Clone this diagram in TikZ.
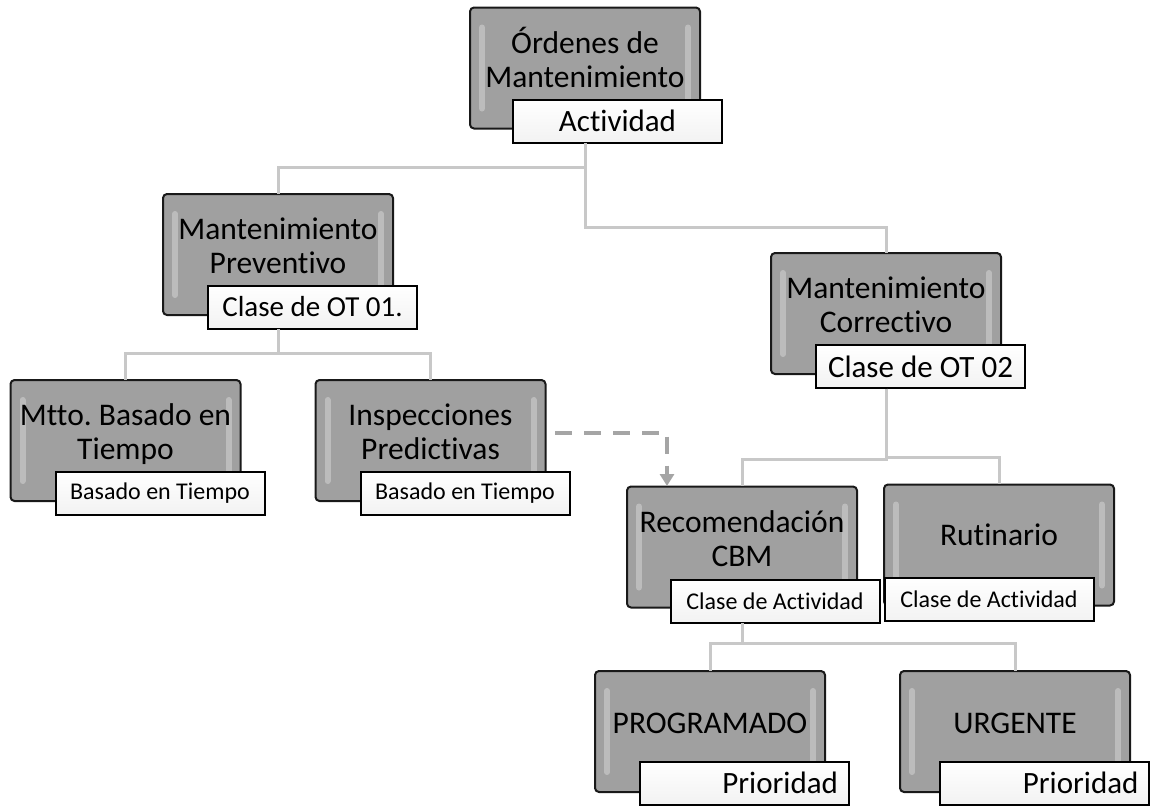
\documentclass[tikz,border=0pt]{standalone}
\usepackage{fontspec}
\setmainfont{Carlito}[Ligatures=NoCommon]
\usepackage{tikz}
\usetikzlibrary{arrows.meta}
\usetikzlibrary{positioning}
\definecolor{cajagris}{RGB}{160,160,160}
\definecolor{lineagris}{RGB}{200,200,200}
\definecolor{flechagris}{RGB}{165,165,165}
\tikzset{
    caja/.style = {rectangle, rounded corners=2pt, draw=black!90, line width=1pt, fill=cajagris, minimum width=230pt, minimum height=121pt, inner sep=0pt,
        path picture={
            \draw[white, opacity=0.3, line width=3pt, line cap=round]
              ([xshift=12pt,yshift=-20pt]path picture bounding box.north west) -- ([xshift=12pt,yshift=20pt]path picture bounding box.south west)
              ([xshift=-12pt,yshift=-20pt]path picture bounding box.north east) -- ([xshift=-12pt,yshift=20pt]path picture bounding box.south east);
        }},
    etiqueta/.style = {rectangle, draw=black, line width=1pt, top color=white, bottom color=black!5, minimum width=209pt, minimum height=43pt, inner sep=0pt, font=\fontsize{31}{34}\selectfont},
    chica/.style = {font=\fontsize{24}{28}\selectfont},
    derecha/.style = {text width=188pt, align=right},
    texto/.style = {align=center, inner sep=0pt, anchor=base, font=\fontsize{31.5}{33.5}\selectfont},
}

\begin{document}
\begin{tikzpicture}[
	x=1pt, y=-1pt,
	scale=0.5,
	transform shape
]
\tikzset{
    conector/.style = {draw=lineagris, line width=1.5pt},
    flecha/.style = {draw=flechagris, line width=2pt, dash pattern=on 8.5pt off 6pt, -{Triangle[width=7pt,length=6pt]}}
}
\useasboundingbox (0,0) rectangle (1152,805);
%
\node[caja] (ord) at (585,68) {};
\node[caja] (prev) at (278,254.5) {};
\node[caja] (corr) at (886,313.5) {};
\node[caja] (mtto) at (125.5,440.5) {};
\node[caja] (insp) at (430.5,440.5) {};
\node[caja] (rec) at (742,547) {};
\node[caja] (rut) at (999,545) {};
\node[caja] (prog) at (710,731.5) {};
\node[caja] (urg) at (1015,731.5) {};
%
\node[texto] (ordt) at (585,87) {Órdenes de\\Mantenimiento};
\node[texto] (prevt) at (278,273) {Mantenimiento\\Preventivo};
\node[texto] (corrt) at (886,332) {Mantenimiento\\Correctivo};
\node[texto] (mttot) at (125.5,459) {Mtto.\ Basado en\\Tiempo};
\node[texto] (inspt) at (430.5,459) {Inspecciones\\Predictivas};
\node[texto] (rect) at (742,566) {Recomendación\\CBM};
\node[texto] (rutt) at (999,545) {Rutinario};
\node[texto] (progt) at (710,733) {PROGRAMADO};
\node[texto] (urgt) at (1015,733) {URGENTE};
%
\node[etiqueta] (ordl) at (617.5,121) {Actividad};
\node[etiqueta, font=\fontsize{29}{32}\selectfont] (prevl) at (312.5,307) {Clase de OT 01.};
\node[etiqueta] (corrl) at (920.5,366.5) {Clase de OT 02};
\node[etiqueta, chica] (mttol) at (160,493) {Basado en Tiempo};
\node[etiqueta, chica] (inspl) at (465,493) {Basado en Tiempo};
\node[etiqueta, chica] (recl) at (775,601) {Clase de Actividad};
\node[etiqueta, chica] (rutl) at (989,599) {Clase de Actividad};
\node[etiqueta, derecha] (progl) at (744,783) {Prioridad};
\node[etiqueta, derecha] (urgl) at (1044.5,783) {Prioridad};
%
\draw[conector] (ord.south |- ordl.south) |- ([yshift=26pt]prev.north) -- (prev.north);
\draw[conector] (ord.south |- ordl.south) |- ([yshift=25pt]corr.north) -- (corr.north);
\draw[conector] (prev.south |- prevl.south) |- ([yshift=26pt]mtto.north) -- (mtto.north);
\draw[conector] (prev.south |- prevl.south) |- ([yshift=26pt]insp.north) -- (insp.north);
\draw[conector] (corr.south |- corrl.south) |- ([yshift=27pt]rec.north) -- (rec.north);
\draw[conector] (corr.south |- corrl.south) |- ([yshift=27pt]rut.north) -- (rut.north);
\draw[conector] (rec.south |- recl.south) |- ([yshift=27pt]prog.north) -- (prog.north);
\draw[conector] (rec.south |- recl.south) |- ([yshift=27pt]urg.north) -- (urg.north);
%
\draw[flecha] ([xshift=9pt,yshift=8pt]insp.east) -| ([xshift=-75pt]rec.north);
\end{tikzpicture}
\end{document}
